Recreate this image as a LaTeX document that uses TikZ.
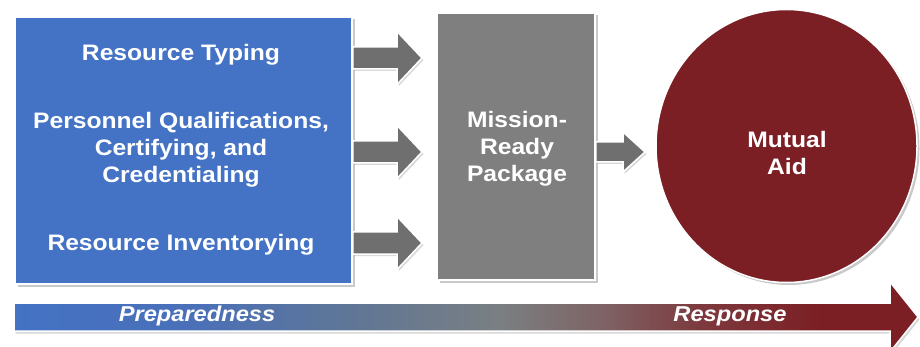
\documentclass[tikz,border=0pt]{standalone}
\usepackage{fontspec}
\setmainfont{Liberation Sans}[FakeStretch=1.1]
\usetikzlibrary{shadows,shapes.geometric,calc}
\definecolor{cblue}{HTML}{4472C4}
\definecolor{cgray}{HTML}{7F7F7F}
\definecolor{cred}{HTML}{7B1F24}
\definecolor{carrow}{HTML}{6F6F6F}
\definecolor{gA}{HTML}{4A70B8}
\definecolor{gB}{HTML}{5F7696}
\definecolor{gC}{HTML}{7A7F82}
\definecolor{gD}{HTML}{7E6466}
\definecolor{gE}{HTML}{7D3A3E}
\pgfdeclarehorizontalshading{barshade}{100bp}{%
  color(0bp)=(cblue); color(25bp)=(cblue); color(35bp)=(gA);
  color(43.5bp)=(gB); color(51.9bp)=(gC); color(57.4bp)=(gD);
  color(62.9bp)=(gE); color(69.6bp)=(cred); color(75bp)=(cred); color(100bp)=(cred)}
\tikzset{
  boxshadow/.style={drop shadow={opacity=0.35,shadow xshift=2.5pt,shadow yshift=-2.5pt,fill=black!60}},
  panel/.style={draw=white,line width=1.5pt,boxshadow},
  label/.style={text=white,font=\fontsize{22.4}{27}\selectfont\bfseries,align=center},
  blockarr/.style={fill=carrow,draw=white,line width=1.5pt,line join=miter,
    drop shadow={opacity=0.3,shadow xshift=1.5pt,shadow yshift=-2pt,fill=black!50}},
}
% #2 start, #3 tip, #4 shaft half, #5 head half, #6 head length
\newcommand\blockarrow[6][blockarr]{%
  \path[#1] let \p1=(#2), \p2=(#3) in
    (\x1,\y2+#4pt) -- (\x2-#6pt,\y2+#4pt) -- (\x2-#6pt,\y2+#5pt) -- (\x2,\y2)
    -- (\x2-#6pt,\y2-#5pt) -- (\x2-#6pt,\y2-#4pt) -- (\x1,\y2-#4pt) -- cycle;}
\begin{document}
\begin{tikzpicture}[x=1pt,y=-1pt]
\useasboundingbox (0,0) rectangle (920,347);
\fill[white] (0,0) rectangle (920,347);
% bottom gradient arrow
\path[shading=barshade,draw=white,line width=1.5pt,
  drop shadow={opacity=0.3,shadow xshift=1.5pt,shadow yshift=-2.5pt,fill=black!50}]
  (14,303) -- (890,303) -- (890,282) -- (918,317) -- (890,352) -- (890,331) -- (14,331) -- cycle;
\node[text=white,font=\fontsize{21.5}{25}\selectfont\bfseries\itshape] (prep) at (197,316) {Preparedness};
\node[text=white,font=\fontsize{21.5}{25}\selectfont\bfseries\itshape] (resp) at (730,316) {Response};
% boxes
\node[panel,fill=cblue,minimum width=337pt,minimum height=267pt,inner sep=0pt] (blue) at (183.5,150.5) {};
\node[panel,fill=cgray,minimum width=158pt,minimum height=267pt,inner sep=0pt] (gray) at (516,146.5) {};
\node[panel,ellipse,fill=cred,minimum width=261pt,minimum height=273pt,inner sep=0pt] (aid) at (786.5,146) {};
% texts
\node[label] (t1) at (181,55) {Resource Typing};
\node[label] (t2) at (181,150) {Personnel Qualifications,\\Certifying, and\\Credentialing};
\node[label] (t3) at (181,245) {Resource Inventorying};
\node[label] (t4) at (517,149) {Mission-\\Ready\\Package};
\node[label] (t5) at (787,153) {Mutual\\Aid};
% arrows
\coordinate (a1) at (422,58);
\coordinate (a2) at (422,152);
\coordinate (a3) at (422,243);
\coordinate (a4) at (645,152);
\blockarrow{blue.east}{a1}{11}{26.5}{25}
\blockarrow{blue.east}{a2}{11}{26.5}{25}
\blockarrow{blue.east}{a3}{11}{26.5}{25}
\blockarrow{gray.east}{a4}{10}{20}{22}
\end{tikzpicture}
\end{document}
